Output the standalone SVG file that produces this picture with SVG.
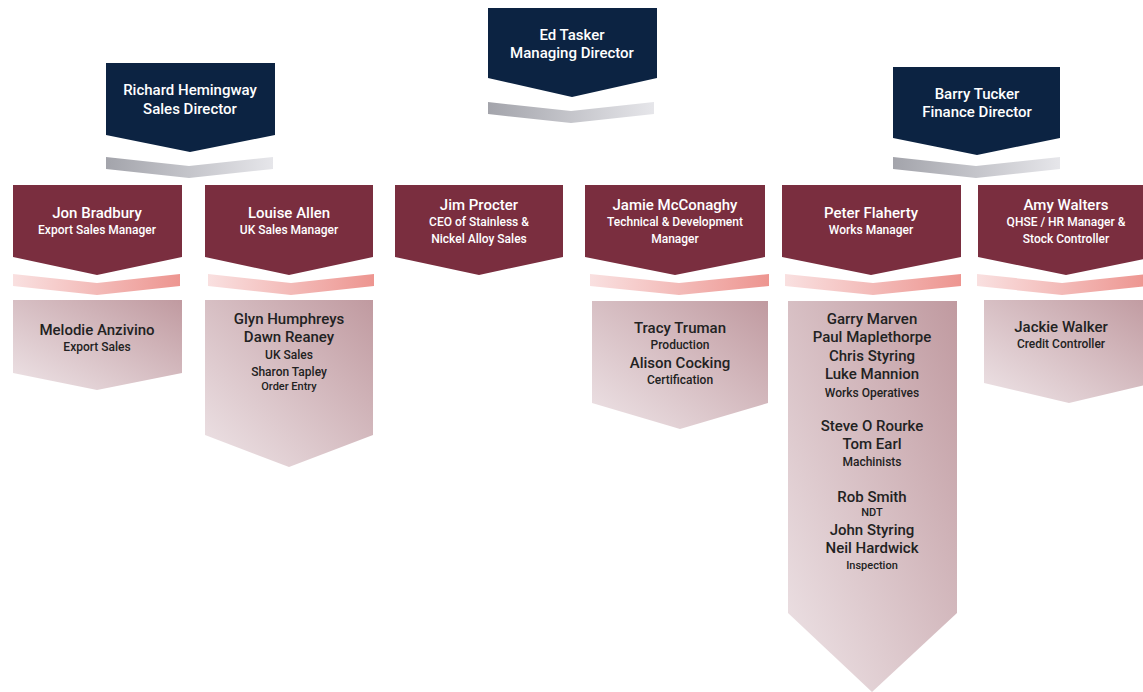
<svg xmlns="http://www.w3.org/2000/svg" width="1143" height="692" viewBox="0 0 1143 692">
<defs>
<linearGradient id="gGray" x1="0" y1="0" x2="1" y2="0"><stop offset="0" stop-color="#a3a4ab"/><stop offset="1" stop-color="#e6e6ea"/></linearGradient>
<linearGradient id="gPink" x1="0" y1="0" x2="1" y2="0"><stop offset="0" stop-color="#f9e0e0"/><stop offset="1" stop-color="#ed9590"/></linearGradient>
<linearGradient id="gLight" x1="0" y1="1" x2="1" y2="0"><stop offset="0" stop-color="#eee4e7"/><stop offset="1" stop-color="#c09aa0"/></linearGradient>
<style>
.navy{fill:#0c2342}
.maroon{fill:#7a2e3f}
.light{fill:url(#gLight)}
.gb{fill:url(#gGray)}
.pb{fill:url(#gPink)}
text{font-family:Roboto,"Liberation Sans",sans-serif;text-anchor:middle}
.w{fill:#ffffff;font-weight:500}
.d{fill:#222222;font-weight:500}
.n{font-size:15px}
.t{font-size:12px}
.s{font-size:11px}
</style>
</defs>
<g id="connectors">
<polygon class="gb" points="488,102 571,111 654,102 654,114 571,123 488,114"/>
<polygon class="gb" points="106,157 189,166 273,157 273,169 189,178 106,169"/>
<polygon class="gb" points="893,157 976,166 1060,157 1060,169 976,178 893,169"/>
<polygon class="pb" points="13,274 97,283 180,274 180,286 97,295 13,286"/>
<polygon class="pb" points="208,274 291,283 374,274 374,286 291,295 208,286"/>
<polygon class="pb" points="590,274 679,283 769,274 769,286 679,295 590,286"/>
<polygon class="pb" points="785,274 873,283 961,274 961,286 873,295 785,286"/>
<polygon class="pb" points="977,274 1062,283 1147,274 1147,286 1062,295 977,286"/>
</g>
<g id="ed">
<polygon class="navy" points="488,8 657,8 657,78 572,97 488,78"/>
<text class="w n" x="572" y="40">Ed Tasker</text>
<text class="w n" x="572" y="58">Managing Director</text>
</g>
<g id="richard">
<polygon class="navy" points="106,63 275,63 275,135 190,152 106,135"/>
<text class="w n" x="190" y="95">Richard Hemingway</text>
<text class="w n" x="190" y="114">Sales Director</text>
</g>
<g id="barry">
<polygon class="navy" points="893,67 1060,67 1060,138 977,155 893,138"/>
<text class="w n" x="977" y="99">Barry Tucker</text>
<text class="w n" x="977" y="117">Finance Director</text>
</g>
<g id="jon">
<polygon class="maroon" points="13,185 182,185 182,257 97,275 13,257"/>
<text class="w n" x="97" y="218">Jon Bradbury</text>
<text class="w t" x="97" y="234">Export Sales Manager</text>
</g>
<g id="louise">
<polygon class="maroon" points="205,185 373,185 373,257 289,275 205,257"/>
<text class="w n" x="289" y="218">Louise Allen</text>
<text class="w t" x="289" y="234">UK Sales Manager</text>
</g>
<g id="jim">
<polygon class="maroon" points="395,185 563,185 563,257 479,275 395,257"/>
<text class="w n" x="479" y="210">Jim Procter</text>
<text class="w t" x="479" y="226">CEO of Stainless &amp;</text>
<text class="w t" x="479" y="243">Nickel Alloy Sales</text>
</g>
<g id="jamie">
<polygon class="maroon" points="585,185 765,185 765,257 675,275 585,257"/>
<text class="w n" x="675" y="210">Jamie McConaghy</text>
<text class="w t" x="675" y="226">Technical &amp; Development</text>
<text class="w t" x="675" y="243">Manager</text>
</g>
<g id="peter">
<polygon class="maroon" points="782,185 961,185 961,257 871,275 782,257"/>
<text class="w n" x="871" y="218">Peter Flaherty</text>
<text class="w t" x="871" y="234">Works Manager</text>
</g>
<g id="amy">
<polygon class="maroon" points="978,185 1154,185 1154,257 1066,275 978,257"/>
<text class="w n" x="1066" y="210">Amy Walters</text>
<text class="w t" x="1066" y="226">QHSE / HR Manager &amp;</text>
<text class="w t" x="1066" y="243">Stock Controller</text>
</g>
<g id="melodie">
<polygon class="light" points="13,300 182,300 182,373 97,390 13,373"/>
<text class="d n" x="97" y="335">Melodie Anzivino</text>
<text class="d t" x="97" y="351">Export Sales</text>
</g>
<g id="uksales">
<polygon class="light" points="205,300 373,300 373,435 289,467 205,435"/>
<text class="d n" x="289" y="324">Glyn Humphreys</text>
<text class="d n" x="289" y="342">Dawn Reaney</text>
<text class="d t" x="289" y="359">UK Sales</text>
<text class="d t" x="289" y="376">Sharon Tapley</text>
<text class="d s" x="289" y="390">Order Entry</text>
</g>
<g id="tracy">
<polygon class="light" points="592,301 768,301 768,403 680,429 592,403"/>
<text class="d n" x="680" y="333">Tracy Truman</text>
<text class="d t" x="680" y="349">Production</text>
<text class="d n" x="680" y="368">Alison Cocking</text>
<text class="d t" x="680" y="384">Certification</text>
</g>
<g id="works">
<polygon class="light" points="788,301 957,301 957,613 872,692 788,613"/>
<text class="d n" x="872" y="324">Garry Marven</text>
<text class="d n" x="872" y="342">Paul Maplethorpe</text>
<text class="d n" x="872" y="361">Chris Styring</text>
<text class="d n" x="872" y="379">Luke Mannion</text>
<text class="d t" x="872" y="397">Works Operatives</text>
<text class="d n" x="872" y="431">Steve O Rourke</text>
<text class="d n" x="872" y="449">Tom Earl</text>
<text class="d t" x="872" y="466">Machinists</text>
<text class="d n" x="872" y="502">Rob Smith</text>
<text class="d s" x="872" y="516">NDT</text>
<text class="d n" x="872" y="535">John Styring</text>
<text class="d n" x="872" y="553">Neil Hardwick</text>
<text class="d s" x="872" y="569">Inspection</text>
</g>
<g id="jackie">
<polygon class="light" points="984,300 1154,300 1154,383 1069,403 984,383"/>
<text class="d n" x="1061" y="332">Jackie Walker</text>
<text class="d t" x="1061" y="348">Credit Controller</text>
</g>
</svg>
